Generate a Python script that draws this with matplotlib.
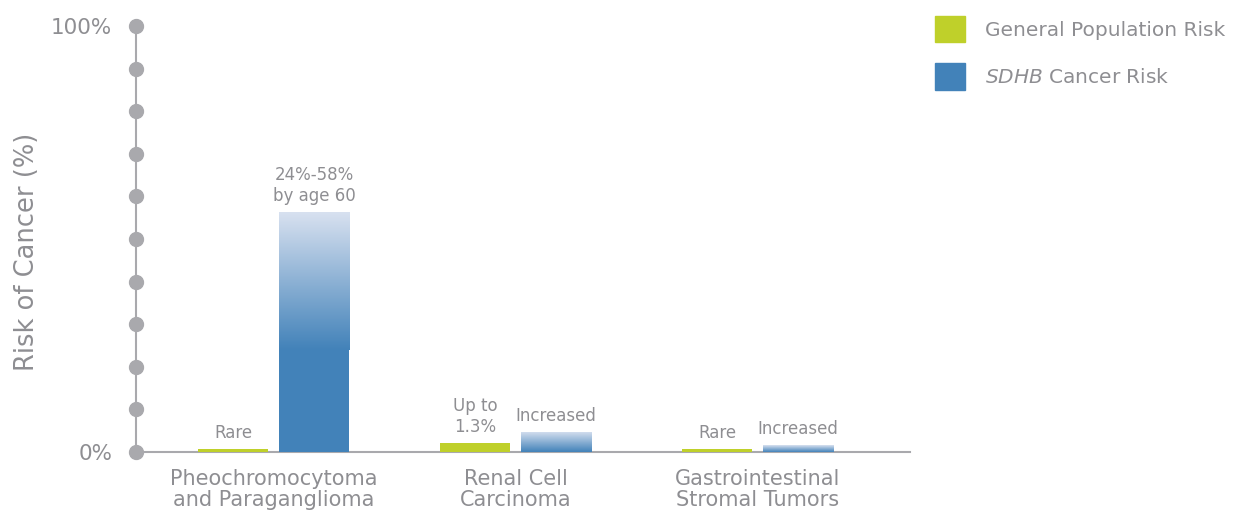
import matplotlib
matplotlib.use("Agg")
import matplotlib.pyplot as plt
import numpy as np
from matplotlib.patches import Patch
from matplotlib.colors import LinearSegmentedColormap

plt.rcParams['font.family'] = ['DejaVu Sans']

categories = ["Pheochromocytoma\nand Paraganglioma", "Renal Cell\nCarcinoma",
              "Gastrointestinal\nStromal Tumors"]
general = [0.7, 2.1, 0.7]
sdhb_solid = [24, 0, 0]
sdhb_top = [56.3, 4.7, 1.6]
general_labels = ["Rare", "Up to\n1.3%", "Rare"]
sdhb_labels = ["24%-58%\nby age 60", "Increased", "Increased"]
dot_ticks = np.arange(0, 101, 10)

green = '#bfd02a'
blue = '#4282b9'
light = '#d8e1f0'
grey_txt = '#8e8e92'
grey_ax = '#a9a9ad'

grad_cmap = LinearSegmentedColormap.from_list('g', [blue, light])

fig = plt.figure(figsize=(12.34, 5.12), dpi=100)
ax = fig.add_axes([136 / 1234, 1 - 452 / 512, (910 - 136) / 1234, (452 - 26) / 512])

x = np.arange(len(categories))
w = 0.29
off = 0.167
xlim = (-0.568, 2.63)
ylim = (0, 100)

ax.bar(x - off, general, width=w, color=green, zorder=3)
ax.bar(x + off, sdhb_solid, width=w, color=blue, zorder=3)

# gradient part of SDHB bars
grad = np.linspace(0, 1, 256).reshape(-1, 1)
for xi, lo, hi in zip(x, sdhb_solid, sdhb_top):
    b = ax.bar(xi + off, hi - lo, bottom=lo, width=w, color='none', zorder=3)[0]
    im = ax.imshow(grad, extent=[xi + off - w / 2, xi + off + w / 2, lo, hi],
                   origin='lower', aspect='auto', cmap=grad_cmap, zorder=3)
    im.set_clip_path(b)

for xi, v, lab in zip(x, general, general_labels):
    ax.annotate(lab, (xi - off, v), xytext=(0, 5), textcoords='offset points',
                ha='center', va='bottom', fontsize=12, color=grey_txt,
                linespacing=1.25)
for xi, v, lab in zip(x, sdhb_top, sdhb_labels):
    ax.annotate(lab, (xi + off, v), xytext=(0, 5), textcoords='offset points',
                ha='center', va='bottom', fontsize=12, color=grey_txt,
                linespacing=1.25)

ax.set_xlim(*xlim)
ax.set_ylim(*ylim)

# dotted y axis
ax.plot([xlim[0]] * len(dot_ticks), dot_ticks, 'o', color=grey_ax, ms=10,
        clip_on=False, zorder=5)

for s in ['top', 'right']:
    ax.spines[s].set_visible(False)
ax.spines['left'].set_color(grey_ax)
ax.spines['bottom'].set_color(grey_ax)
ax.spines['left'].set_linewidth(1.5)
ax.spines['bottom'].set_linewidth(1.5)

ax.set_yticks([0, 100])
ax.set_yticklabels(['0%', '100%'], fontsize=15.5, color=grey_txt)
ax.get_yticklabels()[1].set_va('center_baseline')
ax.tick_params(axis='y', length=0, pad=17)
ax.set_xticks(x)
ax.set_xticklabels(categories, fontsize=15, color=grey_txt, linespacing=1.1)
ax.tick_params(axis='x', length=0, pad=12)
ax.set_ylabel('Risk of Cancer (%)', fontsize=18.5, color=grey_txt)
ax.yaxis.set_label_coords(-0.124, 0.47)

handles = [Patch(color=green, label='General Population Risk'),
           Patch(color=blue, label=r'$\it{SDHB}$ Cancer Risk')]
leg = ax.legend(handles=handles, loc='upper left', frameon=False,
                bbox_to_anchor=(917 / 1234, 1 + 2 / 512), bbox_transform=fig.transFigure,
                fontsize=14.5, handlelength=1.5, handleheight=1.62, handletextpad=1.0,
                labelspacing=1.05)
for t in leg.get_texts():
    t.set_color(grey_txt)

fig.savefig('out.png', dpi=100)
